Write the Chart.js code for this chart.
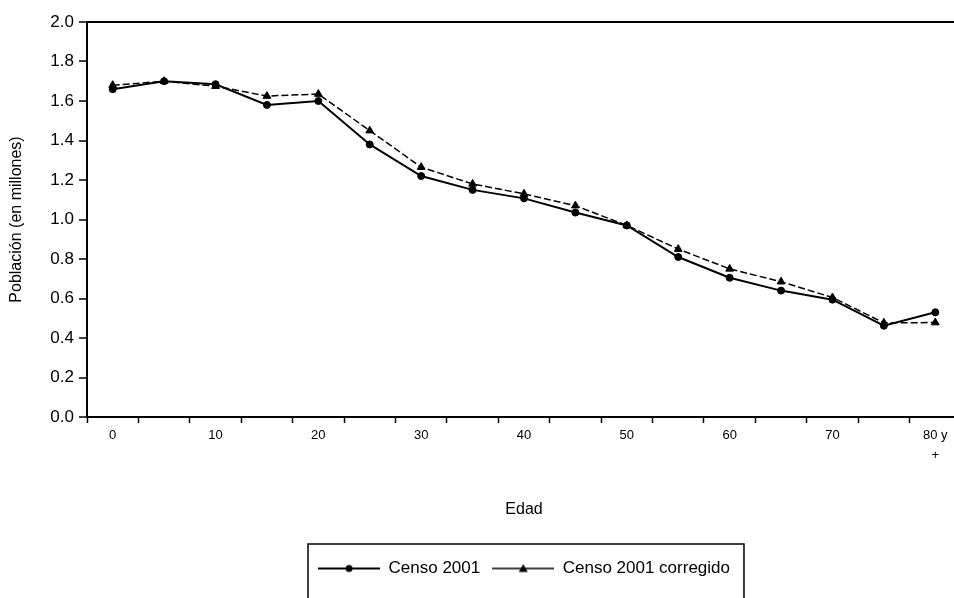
<!DOCTYPE html>
<html>
<head>
<meta charset="utf-8">
<script src="https://cdn.jsdelivr.net/npm/chart.js@4.4.1/dist/chart.umd.min.js"></script>
<style>
  html, body { margin: 0; padding: 0; background: #fff; overflow: hidden; }
  #wrap { position: relative; width: 970px; height: 598px; }
</style>
</head>
<body>
<div id="wrap"><canvas id="chart"></canvas></div>
<script>
// age groups (x axis)
const edades = ['0','5','10','15','20','25','30','35','40','45','50','55','60','65','70','75',['80 y','+']];
// population in millions
const censo2001 = [1.66,1.70,1.685,1.58,1.60,1.38,1.22,1.15,1.107,1.035,0.97,0.81,0.705,0.64,0.594,0.462,0.53];
const censo2001Corregido = [1.68,1.70,1.675,1.625,1.635,1.45,1.265,1.18,1.13,1.07,0.97,0.85,0.75,0.685,0.605,0.477,0.478];
const yTicks = [0,0.2,0.4,0.6,0.8,1.0,1.2,1.4,1.6,1.8,2.0];

const FONT = "'Liberation Sans', Arial, sans-serif";

// little legend icons: line with marker in the middle
function legendIcon(kind) {
  const c = document.createElement('canvas');
  c.width = 62; c.height = 12;
  const g = c.getContext('2d');
  g.strokeStyle = '#000';
  g.fillStyle = '#000';
  g.lineWidth = kind === 'circle' ? 2 : 1.5;
  g.beginPath(); g.moveTo(0, 6); g.lineTo(62, 6); g.stroke();
  g.beginPath();
  if (kind === 'circle') {
    g.arc(31, 6, 3.5, 0, Math.PI * 2);
  } else {
    g.moveTo(31, 1.5); g.lineTo(35.5, 9.5); g.lineTo(26.5, 9.5); g.closePath();
  }
  g.fill();
  return c;
}
const icons = [legendIcon('circle'), legendIcon('triangle')];

// box drawn around the legend, open at the bottom like the scan
const legendBox = {
  id: 'legendBox',
  afterDraw(chart) {
    const lg = chart.legend;
    if (!lg || !lg.legendHitBoxes.length) return;
    const boxes = lg.legendHitBoxes;
    const left = boxes[0].left - 10;
    const right = boxes[boxes.length - 1].left + boxes[boxes.length - 1].width + 14;
    const top = boxes[0].top - 16;
    const ctx = chart.ctx;
    ctx.save();
    ctx.strokeStyle = '#000';
    ctx.lineWidth = 1.5;
    ctx.strokeRect(left, top, right - left, chart.height - top + 5);
    ctx.restore();
  }
};

new Chart(document.getElementById('chart'), {
  type: 'line',
  data: {
    labels: edades,
    datasets: [{
      label: 'Censo 2001',
      data: censo2001,
      borderColor: '#000',
      backgroundColor: '#000',
      borderWidth: 2,
      pointStyle: 'circle',
      pointRadius: 3.5,
      pointBorderWidth: 1,
      tension: 0
    }, {
      label: 'Censo 2001 corregido',
      data: censo2001Corregido,
      borderColor: '#000',
      backgroundColor: '#000',
      borderWidth: 1.5,
      borderDash: [7, 3],
      pointStyle: 'triangle',
      pointRadius: 4.5,
      pointBorderWidth: 1,
      tension: 0
    }]
  },
  options: {
    responsive: true,
    maintainAspectRatio: false,
    animation: false,
    layout: { padding: { top: 22, right: 9, bottom: 11, left: 0 } },
    plugins: {
      tooltip: { enabled: false },
      legend: {
        position: 'bottom',
        fullSize: false,
        labels: {
          usePointStyle: true,
          pointStyleWidth: 62,
          padding: 12,
          color: '#000',
          font: { family: FONT, size: 17 },
          generateLabels: (chart) =>
            Chart.defaults.plugins.legend.labels.generateLabels(chart)
              .map((l, i) => ({ ...l, pointStyle: icons[i] }))
        }
      }
    },
    scales: {
      x: {
        type: 'category',
        offset: true,
        border: { color: '#000', width: 2 },
        grid: {
          offset: true,
          drawOnChartArea: false,
          tickLength: 6,
          tickColor: '#000',
          tickWidth: 1.5
        },
        ticks: {
          autoSkip: false,
          maxRotation: 0,
          padding: 3,
          color: '#000',
          font: { family: FONT, size: 13, lineHeight: 1.5 },
          callback: function (v, i) { return i % 2 === 0 ? this.getLabelForValue(v) : ''; }
        },
        title: {
          display: true,
          text: 'Edad',
          color: '#000',
          font: { family: FONT, size: 16 },
          padding: { top: 0, bottom: 29 }
        },
        afterFit: (s) => { s.height = 131; }
      },
      y: {
        min: 0,
        max: 2,
        border: { color: '#000', width: 2 },
        grid: {
          color: (c) => (c.tick && c.tick.value === 2 ? '#000' : 'rgba(0,0,0,0)'),
          lineWidth: 2,
          tickLength: 8,
          tickColor: '#000',
          tickWidth: 1.5
        },
        afterBuildTicks: (s) => { s.ticks = yTicks.map(v => ({ value: v })); },
        ticks: {
          padding: 5,
          color: '#000',
          font: { family: FONT, size: 17 },
          callback: (v) => Number(v).toFixed(1)
        },
        title: {
          display: true,
          text: 'Población (en millones)',
          color: '#000',
          font: { family: FONT, size: 16 },
          padding: { top: 7, bottom: 0 }
        },
        afterFit: (s) => { s.width = 87; }
      }
    }
  },
  plugins: [legendBox]
});
</script>
</body>
</html>
